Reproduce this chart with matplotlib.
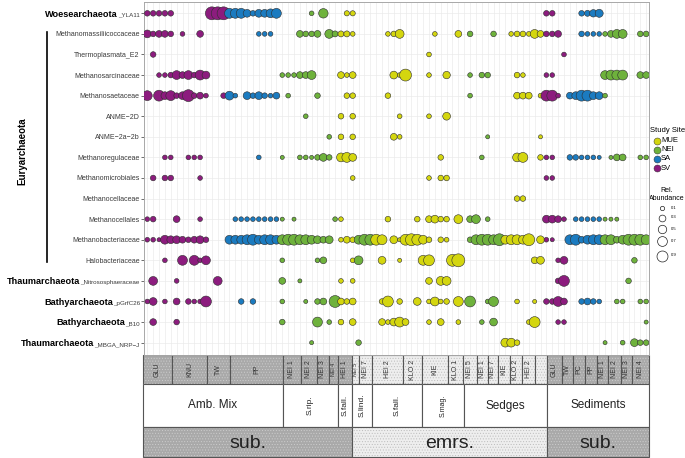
import matplotlib
matplotlib.use("Agg")
import matplotlib.pyplot as plt
import matplotlib.transforms as mtrans
from matplotlib.patches import Rectangle
from matplotlib.lines import Line2D
import numpy as np

plt.rcParams['font.family'] = ['Liberation Sans', 'DejaVu Sans']
plt.rcParams['hatch.linewidth'] = 0.4

# ---- data -------------------------------------------------------------
taxa = ['Woesearchaeota_YLA11', 'Methanomassiliicoccaceae', 'Thermoplasmata_E2',
        'Methanosarcinaceae', 'Methanosaetaceae', 'ANME\u22122D', 'ANME\u22122a\u22122b',
        'Methanoregulaceae', 'Methanomicrobiales', 'Methanocellaceae', 'Methanocellales',
        'Methanobacteriaceae', 'Halobacteriaceae', 'Thaumarchaeota_Nitrososphaeraceae',
        'Bathyarchaeota_pGrfC26', 'Bathyarchaeota_B10', 'Thaumarchaeota_MBGA_NRP\u2212J']

# rows whose label starts with a phylum name in bold
phy_rows = [0, 13, 14, 15, 16]
phy_names = ['Woesearchaeota', 'Thaumarchaeota', 'Bathyarchaeota', 'Bathyarchaeota', 'Thaumarchaeota']
phy_suffix = ['_YLA11', '_Nitrososphaeraceae', '_pGrfC26', '_B10', '_MBGA_NRP\u2212J']

# study site of each sample column (runs of consecutive samples)
site_blocks = ['SV', 'SA', 'NEI', 'MUE', 'NEI', 'MUE', 'NEI', 'MUE', 'SV', 'SA', 'NEI']
block_sizes = [14, 9, 10, 3, 3, 15, 7, 7, 4, 6, 8]
sites = ['MUE', 'NEI', 'SA', 'SV']
site_colors = {'MUE': '#d4d60f', 'NEI': '#6eb23c', 'SA': '#1b7bc0', 'SV': '#8c1c7e'}

# (sample column, relative abundance)
woese = [(0, .08), (1, .08), (2, .08), (3, .08), (4, .08), (11, .9), (12, .9), (13, .9), (14, .45), (15, .45),
         (16, .45), (17, .23), (18, .08), (19, .23), (20, .23), (21, .33), (22, .45), (28, .04), (30, .4),
         (34, .06), (35, .06), (68, .08), (69, .08), (74, .08), (75, .1), (76, .2), (77, .25)]
mmass = [(0, .23), (1, .08), (2, .15), (3, .15), (4, .08), (6, .04), (9, .15), (19, .04), (20, .04), (21, .04),
         (26, .15), (27, .08), (28, .08), (29, .15), (31, .33), (32, .1), (33, .1), (34, .1), (35, .04), (41, .04),
         (42, .08), (43, .33), (49, .04), (53, .15), (55, .08), (59, .08), (62, .04), (63, .08), (64, .08),
         (65, .04), (66, .33), (67, .15), (68, .08), (69, .08), (70, .15), (74, .08), (75, .04), (76, .04),
         (77, .04), (78, .04), (79, .15), (80, .33), (81, .33), (84, .08), (85, .08)]
thermo = [(1, .08), (48, .04), (71, .04)]
msarc = [(2, .04), (3, .04), (4, .08), (5, .33), (6, .15), (7, .33), (8, .08), (9, .45), (10, .23), (23, .04),
         (24, .04), (25, .04), (26, .15), (27, .15), (28, .33), (33, .15), (34, .04), (35, .15), (42, .23),
         (43, .04), (44, .73), (48, .04), (51, .2), (55, .04), (57, .08), (58, .08), (63, .08), (64, .04),
         (68, .04), (69, .04), (78, .33), (79, .45), (80, .45), (81, .45), (84, .15), (85, .15)]
msaet = [(0, .45), (2, .58), (3, .23), (4, .45), (5, .08), (6, .23), (7, .73), (8, .08), (9, .15), (10, .04),
         (13, .08), (14, .33), (15, .04), (17, .23), (18, .08), (19, .23), (20, .08), (21, .04), (22, .15),
         (24, .04), (29, .08), (34, .08), (35, .08), (41, .08), (55, .04), (63, .15), (64, .15), (65, .15),
         (67, .04), (68, .58), (69, .58), (70, .04), (72, .15), (73, .23), (74, .58), (75, .58), (76, .23),
         (77, .23), (78, .04)]
anme2d = [(27, .04), (33, .08), (35, .08), (43, .04), (48, .04), (51, .23)]
anme2ab = [(31, .04), (33, .08), (35, .08), (42, .15), (43, .04), (58, .02), (67, .02)]
mreg = [(3, .04), (4, .04), (7, .04), (8, .04), (9, .04), (19, .04), (23, .02), (26, .04), (27, .04), (28, .02),
        (29, .08), (30, .23), (31, .08), (33, .33), (34, .45), (35, .23), (50, .08), (57, .04), (63, .33),
        (64, .45), (67, .08), (68, .04), (69, .04), (72, .08), (73, .08), (74, .04), (75, .04), (76, .04),
        (77, .02), (79, .02), (80, .15), (81, .15), (84, .04), (85, .04)]
mmicro = [(1, .08), (3, .08), (4, .08), (9, .04), (35, .04), (48, .04), (50, .08), (51, .08), (68, .04), (69, .04)]
mcellaceae = [(63, .08), (64, .08)]
mcellales = [(0, .04), (1, .08), (5, .15), (9, .04), (15, .04), (16, .04), (17, .04), (18, .04), (19, .04),
             (20, .04), (21, .04), (22, .04), (23, .02), (25, .02), (32, .04), (33, .04), (41, .08), (46, .08),
             (48, .15), (49, .23), (50, .08), (51, .08), (53, .33), (55, .15), (56, .33), (58, .04), (68, .23),
             (69, .23), (70, .15), (71, .04), (73, .04), (74, .04), (75, .04), (76, .04), (77, .04), (78, .02),
             (79, .02), (80, .02)]
mbact = [(0, .04), (1, .04), (2, .02), (3, .33), (4, .23), (5, .23), (6, .15), (7, .08), (8, .15), (9, .23),
         (10, .08), (14, .33), (15, .33), (16, .33), (17, .45), (18, .58), (19, .33), (20, .45), (21, .45),
         (22, .33), (23, .45), (24, .58), (25, .58), (26, .45), (27, .45), (28, .33), (29, .23), (30, .15),
         (31, .23), (33, .04), (34, .15), (35, .08), (36, .33), (37, .58), (38, .58), (39, .58), (40, .45),
         (42, .23), (43, .02), (44, .58), (45, .73), (46, .58), (47, .33), (48, .08), (50, .08), (51, .04),
         (55, .08), (56, .45), (57, .58), (58, .58), (59, .45), (60, .73), (61, .33), (62, .45), (63, .45),
         (64, .33), (65, .73), (67, .23), (68, .04), (69, .02), (72, .45), (73, .58), (74, .15), (75, .33),
         (76, .45), (77, .45), (78, .45), (79, .45), (80, .15), (81, .33), (82, .58), (83, .58), (84, .58),
         (85, .45)]
halo = [(3, .04), (6, .45), (8, .45), (9, .04), (10, .33), (23, .04), (29, .04), (30, .15), (35, .04), (36, .33),
        (40, .23), (43, .02), (47, .45), (48, .58), (52, .73), (53, .9), (66, .15), (67, .23), (70, .04),
        (71, .23), (83, .08)]
thaum_nitro = [(1, .33), (5, .04), (12, .33), (23, .15), (26, .02), (33, .04), (35, .04), (48, .15), (50, .33),
               (51, .33), (70, .08), (71, .58), (82, .08)]
bathy_pgrf = [(0, .04), (1, .23), (3, .04), (5, .15), (7, .08), (8, .04), (9, .04), (10, .58), (16, .08), (18, .08),
              (23, .04), (27, .02), (29, .08), (30, .15), (32, .73), (33, .15), (34, .08), (35, .15), (40, .08),
              (41, .58), (43, .08), (46, .23), (48, .04), (49, .33), (50, .04), (51, .08), (53, .45), (55, .58),
              (58, .04), (59, .45), (63, .04), (66, .02), (68, .08), (69, .08), (70, .45), (71, .15), (74, .08),
              (75, .15), (76, .08), (77, .04), (80, .04), (81, .04), (84, .04), (85, .04)]
bathy_b10 = [(1, .15), (5, .08), (23, .08), (29, .45), (31, .04), (33, .08), (35, .15), (40, .15), (41, .04),
             (42, .23), (43, .45), (44, .15), (48, .04), (50, .15), (53, .04), (57, .04), (59, .23), (65, .04),
             (66, .58), (70, .04), (71, .04), (85, .02)]
thaum_mbga = [(28, .02), (36, .08), (61, .33), (62, .33), (63, .08), (78, .02), (81, .04), (83, .23), (84, .08),
              (85, .08)]

rows = [woese, mmass, thermo, msarc, msaet, anme2d, anme2ab, mreg, mmicro, mcellaceae, mcellales,
        mbact, halo, thaum_nitro, bathy_pgrf, bathy_b10, thaum_mbga]

legend_sizes = [0.1, 0.3, 0.5, 0.7, 0.9]

# sample table under the plot
samples = ['GLU', 'KNU', 'TW', 'PP', 'NEI 1', 'NEI 2', 'NEI 3', 'NEI 4', 'HEI 1', 'NEI 5', 'NEI 7', 'HEI 2',
           'KLO 2', 'KIE', 'KLO 1', 'NEI 5', 'NEI 1', 'NEI 7', 'KIE', 'KLO 2', 'HEI 2', '', 'GLU', 'TW', 'PC',
           'PP', 'NEI 1', 'NEI 2', 'NEI 3', 'NEI 4']
habitats = ['Amb. Mix', 'S.rip.', 'S.fall.', 'S.lind.', 'S.fall.', 'S.mag.', 'Sedges', 'Sediments']
zones = ['sub.', 'emrs.', 'sub.']

# ---- layout -------------------------------------------------------------
W, H = 685, 458
sample_edges = [143, 172, 207, 230, 283, 301, 317, 329, 338, 352, 359, 372, 403, 422, 448, 463, 477, 488,
                498, 510, 522, 535, 547, 562, 573, 585, 597, 608, 621, 632, 649]
habitat_edges = [143, 283, 338, 352, 372, 422, 464, 547, 649]
habitat_rot = [0, 90, 90, 90, 90, 90, 0, 0]
habitat_fs = [8.5, 6, 6, 6, 6, 5, 8.5, 8.5]
zone_edges = [143, 352, 547, 649]
zone_dark = [True, False, True]


def diam(v):
    return 2.5 + 11 * np.sqrt(v)


fig = plt.figure(figsize=(W / 100, H / 100), dpi=100)

# overlay in pixel coordinates for table, legend and labels
tax = fig.add_axes([0, 0, 1, 1])
tax.set_xlim(0, W)
tax.set_ylim(H, 0)
tax.axis('off')

ax = fig.add_axes([144 / W, 1 - 355 / H, 504.5 / W, 353 / H])
ncol = sum(block_sizes)
col_site = np.repeat(site_blocks, block_sizes)

for i, row in enumerate(rows):
    cols = np.array([c for c, v in row])
    ab = np.array([v for c, v in row])
    ax.scatter(cols, np.full(len(cols), i), s=(0.72 * diam(ab)) ** 2,
               c=[site_colors[col_site[c]] for c in cols],
               edgecolors='#2e2e2e', linewidths=0.4, zorder=3)

ax.set_xlim(-0.56, ncol - 0.6)
ax.set_ylim(len(taxa) - 0.4, -0.55)
ax.set_xticks(range(ncol))
ax.set_xticklabels([])
ax.tick_params(axis='x', length=0)
ax.set_yticks(range(len(taxa)))
ax.set_yticklabels(['' if i in phy_rows else t for i, t in enumerate(taxa)], fontsize=5, color='#3a3a3a')
ax.tick_params(axis='y', length=2, width=0.5, color='#333333', pad=1)
ax.grid(color='#ebebeb', lw=0.5)
ax.set_axisbelow(True)
for sp in ax.spines.values():
    sp.set_color('#a8a8a8')
    sp.set_linewidth(0.7)

# bold phylum + small suffix labels
fig.canvas.draw()
renderer = fig.canvas.get_renderer()
base = ax.get_yaxis_transform()
for r, name, suf in zip(phy_rows, phy_names, phy_suffix):
    t = ax.text(0, r, suf, fontsize=4.5, color='#3a3a3a', ha='right', va='baseline',
                transform=mtrans.offset_copy(base, fig=fig, x=-3, y=-2.3, units='points'))
    w = t.get_window_extent(renderer).width
    ax.text(0, r, name, fontsize=6.6, fontweight='bold', ha='right', va='baseline',
            transform=mtrans.offset_copy(base, fig=fig, x=-3 * 100 / 72 - w, y=-2.3 * 100 / 72, units='dots'))

fig.text(22 / W, 1 - 151 / H, 'Euryarchaeota', rotation=90, fontsize=7, fontweight='bold',
         ha='center', va='center')
fig.add_artist(Line2D([47 / W, 47 / W], [1 - 32 / H, 1 - 262 / H], transform=fig.transFigure,
                      color='black', lw=1.2))

# ---- legend ---------------------------------------------------------------
tax.text(650, 131, 'Study Site', fontsize=5.5, va='center', ha='left')
for k, s in enumerate(sites):
    y = 140.7 + 9.1 * k
    tax.scatter(656.7, y, s=(0.72 * 7) ** 2, color=site_colors[s], edgecolors='#333333', linewidths=0.35)
    tax.text(661, y, s, fontsize=5.5, va='center', ha='left')
tax.text(667, 190, 'Rel.', fontsize=5, ha='center', va='center')
tax.text(667, 198.3, 'Abundance', fontsize=5, ha='center', va='center')
for k, v in enumerate(legend_sizes):
    y = [208.3, 217.5, 228.5, 240.5, 255.5][k]
    tax.scatter(662.3, y, s=(0.72 * (1 + 10.5 * np.sqrt(v))) ** 2, facecolors='white',
                edgecolors='#222222', linewidths=0.5)
    tax.text(671, y, str(v), fontsize=3, va='center', ha='left')

# ---- sample table ---------------------------------------------------------
DARK, DARK_DOT = '#a9a9a9', '#cdcdcd'
LIGHT, LIGHT_DOT = '#eeeeee', '#bcbcbc'
LINE = '#555555'
r1, r2, r3, r4 = 355, 384, 427, 457


def cell(x0, x1, y0, y1, face, dots):
    if dots is not None:
        tax.add_patch(Rectangle((x0, y0), x1 - x0, y1 - y0, facecolor=face, edgecolor=dots,
                                hatch='......', lw=0))
    else:
        tax.add_patch(Rectangle((x0, y0), x1 - x0, y1 - y0, facecolor=face, lw=0))
    tax.add_patch(Rectangle((x0, y0), x1 - x0, y1 - y0, fill=False, edgecolor=LINE, lw=0.8))


for k, lab in enumerate(samples):
    x0, x1 = sample_edges[k], sample_edges[k + 1]
    dark = x1 <= 352 or x0 >= 547
    cell(x0, x1, r1, r2, DARK if dark else LIGHT, DARK_DOT if dark else LIGHT_DOT)
    fs = 5 if x1 - x0 > 9 else 3.8
    tax.text((x0 + x1) / 2, (r1 + r2) / 2, lab, rotation=90, fontsize=fs, ha='center', va='center',
             color='#333333')

for k, lab in enumerate(habitats):
    x0, x1 = habitat_edges[k], habitat_edges[k + 1]
    cell(x0, x1, r2, r3, 'white', None)
    tax.text((x0 + x1) / 2, (r2 + r3) / 2, lab, rotation=habitat_rot[k], fontsize=habitat_fs[k],
             ha='center', va='center', color='#222222')

for k, lab in enumerate(zones):
    x0, x1 = zone_edges[k], zone_edges[k + 1]
    cell(x0, x1, r3, r4, DARK if zone_dark[k] else LIGHT, DARK_DOT if zone_dark[k] else LIGHT_DOT)
    tax.text((x0 + x1) / 2, (r3 + r4) / 2 + 1, lab, fontsize=14, ha='center', va='center', color='#222222')

fig.savefig('out.png', dpi=100)
